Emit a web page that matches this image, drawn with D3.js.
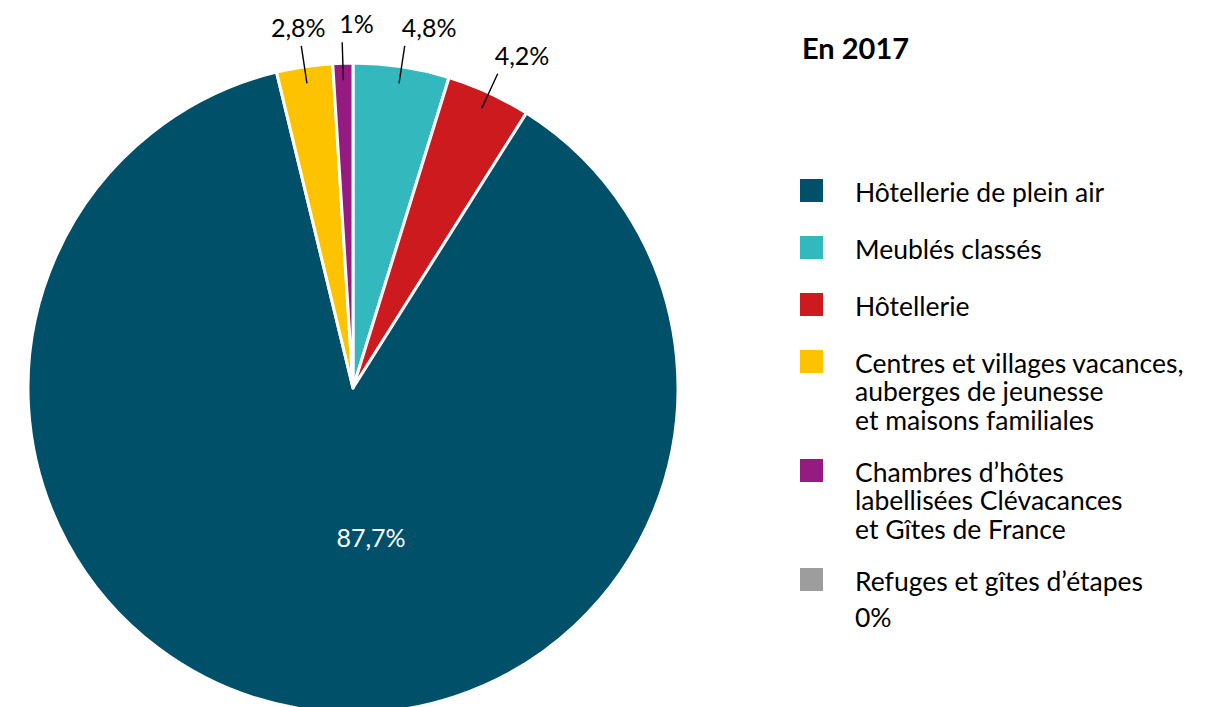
<!DOCTYPE html>
<html>
<head>
<meta charset="utf-8">
<script src="https://cdn.jsdelivr.net/npm/d3@7"></script>
<style>
  html, body { margin: 0; padding: 0; background: #fff; }
  svg { display: block; }
  text { font-family: Lato, "Open Sans", sans-serif; }
</style>
</head>
<body>
<svg id="chart" width="1220" height="707"></svg>
<script>
// ---- data ----
const categories = [
  "Hôtellerie de plein air",
  "Meublés classés",
  "Hôtellerie",
  "Centres et villages vacances, auberges de jeunesse et maisons familiales",
  "Chambres d’hôtes labellisées Clévacances et Gîtes de France",
  "Refuges et gîtes d’étapes"
];
const legendLines = [
  ["Hôtellerie de plein air"],
  ["Meublés classés"],
  ["Hôtellerie"],
  ["Centres et villages vacances,", "auberges de jeunesse", "et maisons familiales"],
  ["Chambres d’hôtes", "labellisées Clévacances", "et Gîtes de France"],
  ["Refuges et gîtes d’étapes"]
];
const values = [87.7, 4.8, 4.2, 2.8, 1, 0];
const valueLabels = ["87,7%", "4,8%", "4,2%", "2,8%", "1%", "0%"];
const colors = ["#00506a", "#33b8bd", "#cc1a1f", "#fdc300", "#951b81", "#9d9d9d"];
const pieOrder = [1, 2, 0, 3, 4];   // clockwise from 12 o'clock
const title = "En 2017";

// ---- layout ----
const svg = d3.select("#chart");
const cx = 353, cy = 388, R = 325;

const pieData = pieOrder.map(i => ({ i, value: values[i] }));
const pie = d3.pie().sort(null).value(d => d.value);
const arcs = pie(pieData);
const arc = d3.arc().innerRadius(0).outerRadius(R);

const g = svg.append("g").attr("transform", `translate(${cx},${cy})`);
g.selectAll("path.slice")
  .data(arcs)
  .join("path")
  .attr("class", "slice")
  .attr("d", arc)
  .attr("fill", d => colors[d.data.i])
  .attr("stroke", "#fff")
  .attr("stroke-width", 3)
  .attr("stroke-linejoin", "round");

const polar = (r, a) => [r * Math.sin(a), -r * Math.cos(a)];

// outside labels with leader lines (small slices)
const outside = arcs.filter(d => d.data.i !== 0);
outside.forEach(d => {
  const a = (d.startAngle + d.endAngle) / 2;
  const p1 = polar(308, a), p2 = polar(346, a);
  g.append("line")
    .attr("x1", p1[0]).attr("y1", p1[1])
    .attr("x2", p2[0]).attr("y2", p2[1])
    .attr("stroke", "#000").attr("stroke-width", 1.4);
  const nearTop = a > -0.09 * Math.PI * 2 / 2 && (a < Math.PI);
  const startAnchored = a < Math.PI || a > 2 * Math.PI - 0.09;
  g.append("text")
    .attr("x", startAnchored ? p2[0] - 3 : p2[0] - 3)
    .attr("y", p2[1] - 9)
    .attr("text-anchor", startAnchored ? "start" : "middle")
    .attr("font-size", 25)
    .attr("fill", "#000")
    .text(valueLabels[d.data.i]);
});

// inside label for the big slice
g.append("text")
  .attr("x", 18).attr("y", 150)
  .attr("dy", "0.35em")
  .attr("text-anchor", "middle")
  .attr("font-size", 25)
  .attr("fill", "#fff")
  .text(valueLabels[0]);

// ---- legend ----
svg.append("text")
  .attr("x", 802).attr("y", 59)
  .attr("font-size", 29).attr("font-weight", "bold")
  .attr("fill", "#000")
  .text(title);

const lg = svg.append("g");
const fs = 26.5;
const lineH = 28.3;
let y = 202;
legendLines.forEach((lines, i) => {
  lg.append("rect")
    .attr("x", 800).attr("y", y - 23)
    .attr("width", 23).attr("height", 23)
    .attr("fill", colors[i]);
  const t = lg.append("text")
    .attr("x", 855).attr("y", y)
    .attr("font-size", fs).attr("fill", "#000");
  lines.forEach((ln, k) => {
    t.append("tspan").attr("x", 855).attr("y", y + k * lineH).text(ln);
  });
  if (i === legendLines.length - 1) {
    lg.append("text")
      .attr("x", 855).attr("y", y + 36)
      .attr("font-size", fs).attr("fill", "#000")
      .text(valueLabels[i]);
  }
  y += (lines.length - 1) * 26 + 57;
});
</script>
</body>
</html>
